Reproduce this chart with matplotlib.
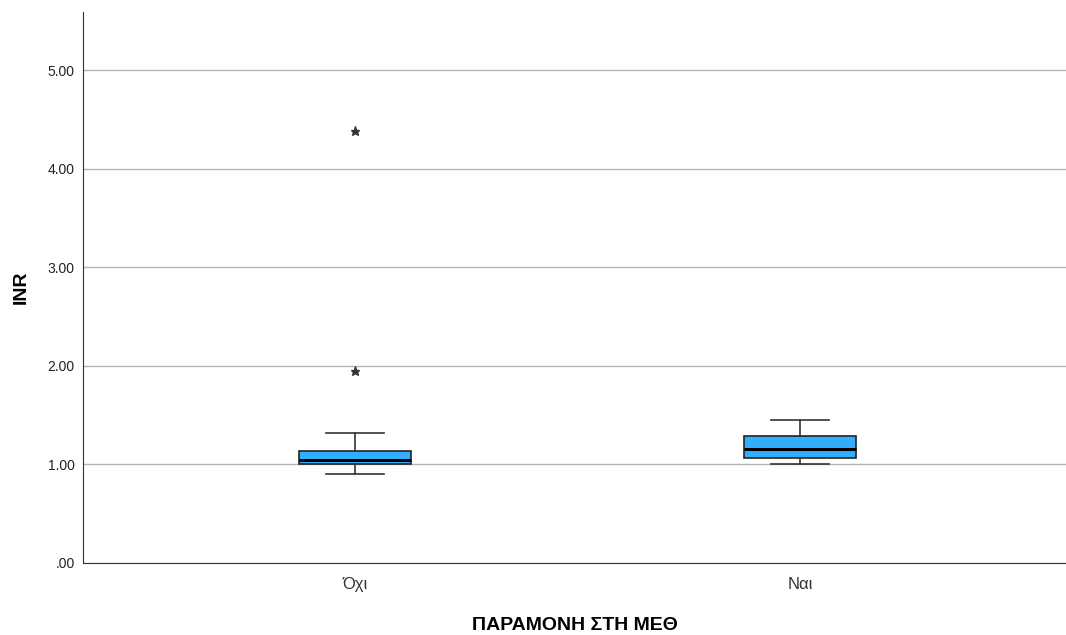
import matplotlib
matplotlib.use("Agg")
import matplotlib.pyplot as plt

plt.rcParams['font.family'] = ['Liberation Sans', 'DejaVu Sans']

categories = ["Όχι", "Ναι"]
whisker_low = [0.90, 1.00]
q1 = [1.00, 1.07]
medians = [1.04, 1.16]
q3 = [1.14, 1.285]
whisker_high = [1.32, 1.45]
outliers = [[4.38, 1.95], []]
y_ticks = [0, 1, 2, 3, 4, 5]


def tick_fmt(v):
    s = "%.2f" % v
    return s[1:] if s.startswith("0") else s


def main():
    fig = plt.figure(figsize=(10.66, 6.35), dpi=100)
    ax = fig.add_axes([83 / 1066, 72 / 635, 983 / 1066, 551 / 635])

    stats = []
    for i, name in enumerate(categories):
        stats.append({
            "label": name, "whislo": whisker_low[i], "q1": q1[i], "med": medians[i],
            "q3": q3[i], "whishi": whisker_high[i], "fliers": outliers[i],
        })

    ax.bxp(stats, positions=range(len(categories)), widths=0.25, patch_artist=True,
           boxprops=dict(facecolor="#33adff", edgecolor="#222222", linewidth=1.2),
           medianprops=dict(color="black", linewidth=2.2),
           whiskerprops=dict(color="#333333", linewidth=1.2),
           capprops=dict(color="#333333", linewidth=1.2),
           capwidths=0.13,
           flierprops=dict(marker="*", markersize=6.5, markerfacecolor="#333333",
                           markeredgecolor="#333333", linestyle="none"))

    ax.set_xlim(-0.611, 1.598)
    ax.set_ylim(0, 5.59)
    ax.set_yticks(y_ticks)
    ax.set_yticklabels([tick_fmt(v) for v in y_ticks], fontsize=10, color="#222222")
    ax.set_xticks(range(len(categories)))
    ax.set_xticklabels(categories, fontsize=12, color="#333333")
    ax.tick_params(axis="x", length=0, pad=10)
    ax.tick_params(axis="y", length=0, pad=6)

    ax.yaxis.grid(True, color="#b4b4b4", linewidth=1)
    ax.set_axisbelow(True)
    for s in ["top", "right"]:
        ax.spines[s].set_visible(False)
    ax.spines["left"].set_color("#333333")
    ax.spines["bottom"].set_color("#333333")

    ax.set_ylabel("INR", fontsize=14, fontweight="bold", labelpad=13)
    ax.set_xlabel("ΠΑΡΑΜΟΝΗ ΣΤΗ ΜΕΘ", fontsize=14, fontweight="bold", labelpad=18)

    fig.savefig("out.png", dpi=100)


if __name__ == '__main__':
    main()
